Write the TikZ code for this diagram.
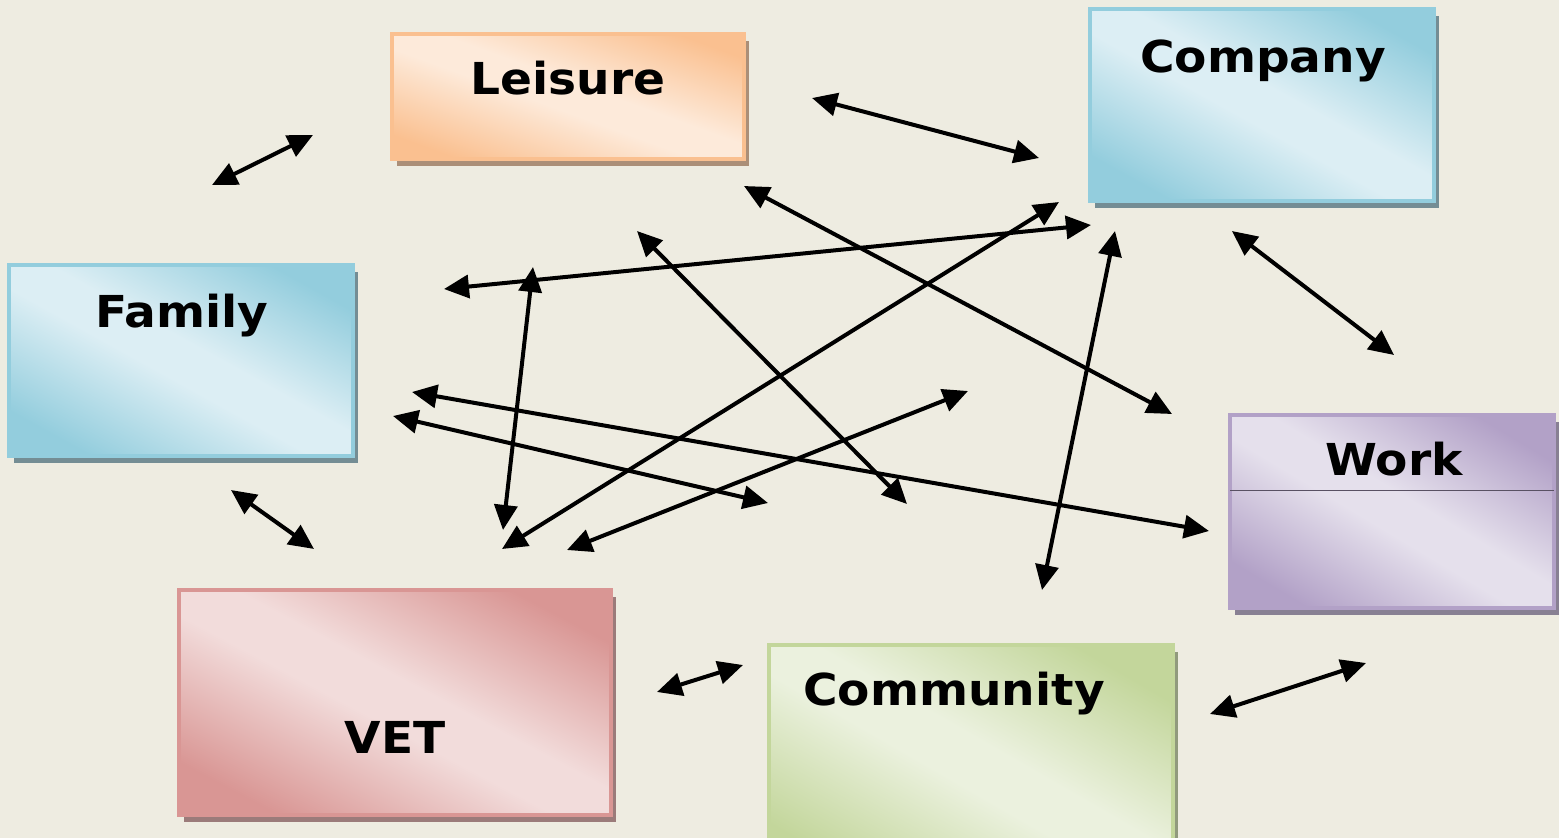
\documentclass[tikz,border=0pt]{standalone}
\usepackage{fontspec}
\setmainfont{DejaVu Sans}
\newfontfamily\lblfont[FakeStretch=1.07]{DejaVu Sans}
\usetikzlibrary{arrows.meta,shadows}
\definecolor{bg}{HTML}{EEECE1}
\definecolor{lsD}{HTML}{FAC090}\definecolor{lsL}{HTML}{FDEADA}
\definecolor{cyD}{HTML}{93CDDD}\definecolor{cyL}{HTML}{DCEEF4}
\definecolor{wkD}{HTML}{B2A1C7}\definecolor{wkL}{HTML}{E5E0EC}
\definecolor{vtD}{HTML}{D99694}\definecolor{vtL}{HTML}{F2DCDB}
\definecolor{cmD}{HTML}{C3D69B}\definecolor{cmL}{HTML}{EBF1DE}
\pgfdeclarehorizontalshading{shLs}{100bp}{color(0bp)=(lsD); color(24bp)=(lsD); color(46bp)=(lsL); color(54bp)=(lsL); color(76bp)=(lsD); color(100bp)=(lsD)}
\pgfdeclarehorizontalshading{shCy}{100bp}{color(0bp)=(cyD); color(24bp)=(cyD); color(46bp)=(cyL); color(54bp)=(cyL); color(76bp)=(cyD); color(100bp)=(cyD)}
\pgfdeclarehorizontalshading{shWk}{100bp}{color(0bp)=(wkD); color(24bp)=(wkD); color(46bp)=(wkL); color(54bp)=(wkL); color(76bp)=(wkD); color(100bp)=(wkD)}
\pgfdeclarehorizontalshading{shVt}{100bp}{color(0bp)=(vtD); color(24bp)=(vtD); color(46bp)=(vtL); color(54bp)=(vtL); color(76bp)=(vtD); color(100bp)=(vtD)}
\pgfdeclarehorizontalshading{shCm}{100bp}{color(0bp)=(cmD); color(24bp)=(cmD); color(46bp)=(cmL); color(54bp)=(cmL); color(76bp)=(cmD); color(100bp)=(cmD)}
\begin{document}
\begin{tikzpicture}[x=1pt,y=-1pt,
  boxbase/.style={rectangle, inner sep=0pt, outer sep=0pt, line width=4pt},
  lsbox/.style={boxbase, draw=lsD, shading=shLs, drop shadow={shadow xshift=5pt,shadow yshift=-7pt,fill=lsD!60!black!80,opacity=1}},
  cybox/.style={boxbase, draw=cyD, shading=shCy, drop shadow={shadow xshift=5pt,shadow yshift=-7pt,fill=cyD!55!black!80,opacity=1}},
  wkbox/.style={boxbase, draw=wkD, shading=shWk, drop shadow={shadow xshift=5pt,shadow yshift=-7pt,fill=wkD!60!black!80,opacity=1}},
  vtbox/.style={boxbase, draw=vtD, shading=shVt, drop shadow={shadow xshift=5pt,shadow yshift=-7pt,fill=vtD!60!black!80,opacity=1}},
  cmbox/.style={boxbase, draw=cmD, shading=shCm, drop shadow={shadow xshift=5pt,shadow yshift=-7pt,fill=cmD!60!black!80,opacity=1}},
  lbl/.style={font=\lblfont\bfseries\fontsize{44}{44}\selectfont, anchor=base, inner sep=0pt},
  link/.style={line width=4pt, {Triangle[length=25pt,width=23pt]}-{Triangle[length=25pt,width=23pt]}}
]
\useasboundingbox (0,0) rectangle (1559,838);
\clip (0,0) rectangle (1559,838);
\fill[bg] (0,0) rectangle (1559,838);

% boxes
\node[lsbox, shading angle=70, minimum width=352pt, minimum height=125pt] (leisure) at (568,96.5) {};
\node[cybox, shading angle=61, minimum width=344pt, minimum height=192pt] (company) at (1262,105) {};
\node[cybox, shading angle=61, minimum width=344pt, minimum height=191pt] (family) at (181,360.5) {};
\node[wkbox, shading angle=59, minimum width=324pt, minimum height=193pt] (work) at (1392,511.5) {};
\node[vtbox, shading angle=62, minimum width=432pt, minimum height=225pt] (vet) at (395,702.5) {};
\node[cmbox, shading angle=60, minimum width=404pt, minimum height=235pt] (community) at (971,762.5) {};
\draw[wkD!50!black, line width=0.8pt] (work.west |- 0,490) -- (work.east |- 0,490);

% labels
\node[lbl] (leisureT) at (568,94) {Leisure};
\node[lbl] (companyT) at (1263,72) {Company};
\node[lbl] (familyT) at (182,327) {Family};
\node[lbl] (workT) at (1394,475) {Work};
\node[lbl] (vetT) at (395,753) {VET};
\node[lbl] (communityT) at (954,705) {Community};

% connector end points
\coordinate (a1s) at (212,185);  \coordinate (a1e) at (313,135);
\coordinate (a2s) at (812,98);   \coordinate (a2e) at (1039,158);
\coordinate (a3s) at (1232,231); \coordinate (a3e) at (1394,355);
\coordinate (a4s) at (231,490);  \coordinate (a4e) at (314,549);
\coordinate (a5s) at (657,692);  \coordinate (a5e) at (743,665);
\coordinate (a6s) at (1210,714); \coordinate (a6e) at (1366,663);
\coordinate (a7s) at (444,289);  \coordinate (a7e) at (1091,225);
\coordinate (a8s) at (533,267);  \coordinate (a8e) at (503,530);
\coordinate (a9s) at (744,186);  \coordinate (a9e) at (1172,414);
\coordinate (a10s) at (637,231); \coordinate (a10e) at (907,504);
\coordinate (a11s) at (1059,202);\coordinate (a11e) at (502,549);
\coordinate (a12s) at (1115,231);\coordinate (a12e) at (1042,590);
\coordinate (a13s) at (412,392); \coordinate (a13e) at (1209,531);
\coordinate (a14s) at (393,416); \coordinate (a14e) at (768,503);
\coordinate (a15s) at (968,391); \coordinate (a15e) at (567,550);

\foreach \i in {1,...,15} \draw[link] (a\i s) -- (a\i e);
\end{tikzpicture}
\end{document}
